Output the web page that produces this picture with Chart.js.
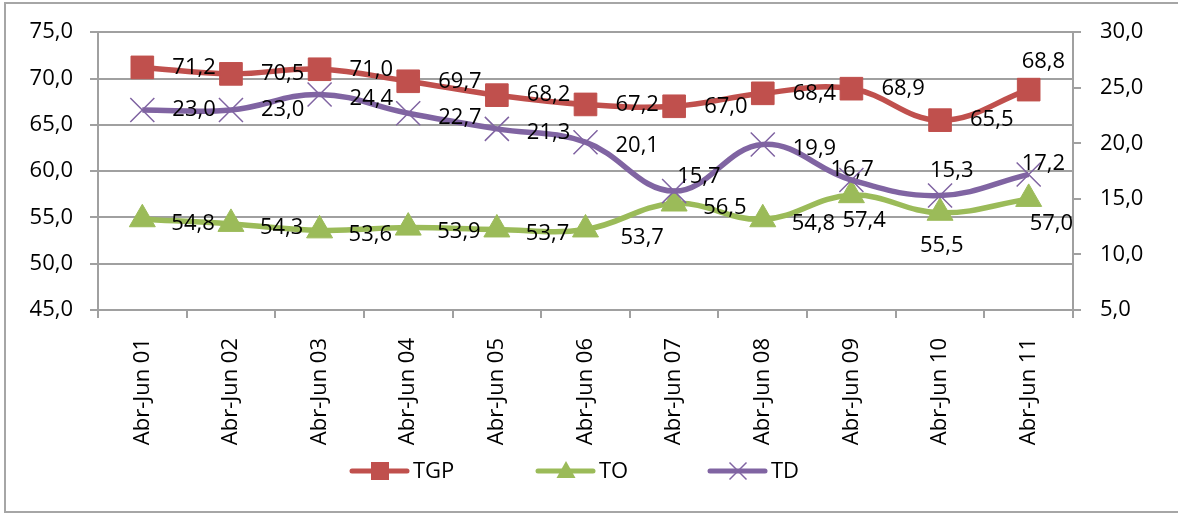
<!DOCTYPE html>
<html>
<head>
<meta charset="utf-8">
<script src="https://cdn.jsdelivr.net/npm/chart.js@4/dist/chart.umd.min.js"></script>
<style>
  html, body { margin: 0; padding: 0; background: #fff; overflow: hidden; }
  #wrap { position: relative; width: 1178px; height: 514px; }
  #chart { position: absolute; left: 0; top: 0; }
  #frame { position: absolute; left: 4px; top: 2px; width: 1200px; height: 507px;
           border: 2px solid #a6a6a6; pointer-events: none; }
</style>
</head>
<body>
<div id="wrap">
  <canvas id="chart" width="1178" height="514"></canvas>
  <div id="frame"></div>
</div>
<script>
// quarters (April-June of each year)
const labels = ['Abr-Jun 01', 'Abr-Jun 02', 'Abr-Jun 03', 'Abr-Jun 04', 'Abr-Jun 05', 'Abr-Jun 06',
                'Abr-Jun 07', 'Abr-Jun 08', 'Abr-Jun 09', 'Abr-Jun 10', 'Abr-Jun 11'];
const tgp = [71.2, 70.5, 71.0, 69.7, 68.2, 67.2, 67.0, 68.4, 68.9, 65.5, 68.8];
const to  = [54.8, 54.3, 53.6, 53.9, 53.7, 53.7, 56.5, 54.8, 57.4, 55.5, 57.0];
const td  = [23.0, 23.0, 24.4, 22.7, 21.3, 20.1, 15.7, 19.9, 16.7, 15.3, 17.2];

const leftTicks = [45, 50, 55, 60, 65, 70, 75];
const rightTicks = [5, 10, 15, 20, 25, 30];

const FONT = '"Open Sans", "DejaVu Sans", sans-serif';
const GRID = '#a0a0a0';
const fmt = v => v.toFixed(1).replace('.', ',');

// where each value label sits relative to its point (Excel moved a few of them)
const labelShift = [[30, 0], [29, 4], [30, 4]];
const labelNudge = {
  '0:10': [-7, -28],
  '1:5': [35, 8], '1:8': [-9, 26], '1:9': [-20, 33], '1:10': [1, 25],
  '2:0': [30, 0], '2:1': [30, 0], '2:6': [3, -14], '2:8': [-21, -10], '2:9': [-10, -25], '2:10': [-7, -11]
};

const valueLabels = {
  id: 'valueLabels',
  afterDatasetsDraw(chart) {
    const ctx = chart.ctx;
    ctx.save();
    ctx.font = '22px ' + FONT;
    ctx.fillStyle = '#000';
    ctx.textAlign = 'left';
    ctx.textBaseline = 'middle';
    chart.data.datasets.forEach((ds, d) => {
      chart.getDatasetMeta(d).data.forEach((pt, i) => {
        const off = labelNudge[d + ':' + i] || labelShift[d];
        ctx.fillText(fmt(ds.data[i]), pt.x + off[0], pt.y + off[1]);
      });
    });
    ctx.restore();
  }
};

// Excel-style legend: line segment with the marker in the middle
const excelLegend = {
  id: 'excelLegend',
  afterDraw(chart) {
    const ctx = chart.ctx;
    const slots = [352, 538, 710];
    const y = 471;
    ctx.save();
    chart.data.datasets.forEach((ds, d) => {
      const x0 = slots[d];
      const cx = x0 + 28;
      ctx.strokeStyle = ds.borderColor;
      ctx.lineWidth = 5;
      ctx.lineCap = 'round';
      ctx.beginPath();
      ctx.moveTo(x0, y);
      ctx.lineTo(x0 + 55, y);
      ctx.stroke();
      ctx.fillStyle = ds.borderColor;
      if (ds.pointStyle === 'rect') {
        ctx.fillRect(cx - 9, y - 9, 18, 18);
      } else if (ds.pointStyle === 'triangle') {
        ctx.beginPath();
        ctx.moveTo(cx, y - 10);
        ctx.lineTo(cx + 9.5, y + 7);
        ctx.lineTo(cx - 9.5, y + 7);
        ctx.closePath();
        ctx.fill();
      } else {
        ctx.lineWidth = 1.5;
        ctx.lineCap = 'butt';
        ctx.beginPath();
        ctx.moveTo(cx - 8.5, y - 8.5); ctx.lineTo(cx + 8.5, y + 8.5);
        ctx.moveTo(cx + 8.5, y - 8.5); ctx.lineTo(cx - 8.5, y + 8.5);
        ctx.stroke();
      }
      ctx.fillStyle = '#000';
      ctx.font = '22px ' + FONT;
      ctx.textAlign = 'left';
      ctx.textBaseline = 'middle';
      ctx.fillText(ds.label, x0 + 61, y + 1);
    });
    ctx.restore();
  }
};

new Chart(document.getElementById('chart'), {
  type: 'line',
  data: {
    labels,
    datasets: [{
      label: 'TGP',
      data: tgp,
      yAxisID: 'y',
      borderColor: '#C0504D',
      backgroundColor: '#C0504D',
      borderWidth: 5.5,
      tension: 0.4,
      pointStyle: 'rect',
      pointRadius: 16,
      pointBorderWidth: 1,
      pointBorderColor: '#C0504D',
      order: 3
    }, {
      label: 'TO',
      data: to,
      yAxisID: 'y',
      borderColor: '#9BBB59',
      backgroundColor: '#9BBB59',
      borderWidth: 5.5,
      tension: 0.4,
      pointStyle: 'triangle',
      pointRadius: 15,
      pointBorderWidth: 1,
      pointBorderColor: '#9BBB59',
      order: 2
    }, {
      label: 'TD',
      data: td,
      yAxisID: 'y1',
      borderColor: '#8064A2',
      backgroundColor: '#8064A2',
      borderWidth: 5.5,
      tension: 0.4,
      pointStyle: 'crossRot',
      pointRadius: 17,
      pointBorderWidth: 1.5,
      pointBorderColor: '#8064A2',
      order: 1
    }]
  },
  options: {
    responsive: false,
    animation: false,
    events: [],
    layout: { padding: { top: 30, left: 0, right: 0, bottom: 0 } },
    plugins: { legend: { display: false }, tooltip: { enabled: false } },
    scales: {
      x: {
        offset: true,
        afterFit(s) { s.height = 204; },
        grid: { offset: true, drawOnChartArea: false, drawTicks: true, tickLength: 8, color: GRID, lineWidth: 2 },
        border: { display: true, color: GRID, width: 2 },
        ticks: { minRotation: 90, maxRotation: 90, padding: 20, color: '#000', font: { family: FONT, size: 22 } }
      },
      y: {
        position: 'left',
        min: leftTicks[0],
        max: leftTicks[leftTicks.length - 1],
        afterFit(s) { s.width = 98; },
        afterBuildTicks(s) { s.ticks = leftTicks.map(v => ({ value: v })); },
        grid: { color: GRID, lineWidth: 2, tickLength: 8 },
        border: { display: true, color: GRID, width: 2 },
        ticks: { padding: 17, color: '#000', font: { family: FONT, size: 22 }, callback: v => fmt(v) }
      },
      y1: {
        position: 'right',
        min: rightTicks[0],
        max: rightTicks[rightTicks.length - 1],
        afterFit(s) { s.width = 105; },
        afterBuildTicks(s) { s.ticks = rightTicks.map(v => ({ value: v })); },
        grid: { drawOnChartArea: false, color: GRID, lineWidth: 2, tickLength: 8 },
        border: { display: true, color: GRID, width: 2 },
        ticks: { padding: 19, color: '#000', font: { family: FONT, size: 22 }, callback: v => fmt(v) }
      }
    }
  },
  plugins: [valueLabels, excelLegend]
});
</script>
</body>
</html>
